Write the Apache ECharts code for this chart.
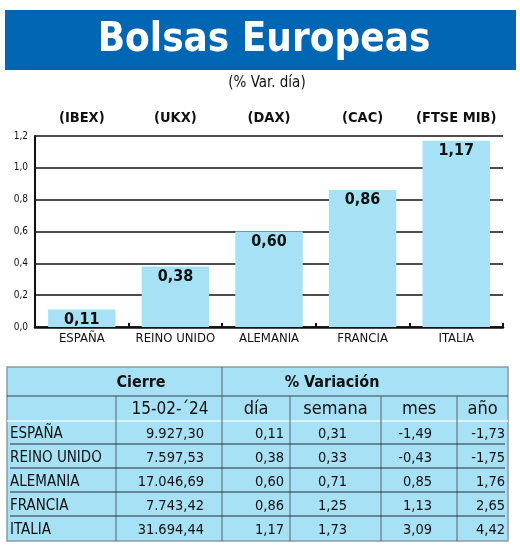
<!DOCTYPE html>
<html>
<head>
<meta charset="utf-8">
<script src="https://cdn.jsdelivr.net/npm/echarts@6/dist/echarts.min.js"></script>
<style>
  html, body { margin: 0; padding: 0; background: #fff; }
  #chart { width: 520px; height: 546px; }
</style>
</head>
<body>
<div id="chart"></div>
<script>
// datos
const categories = ['ESPAÑA', 'REINO UNIDO', 'ALEMANIA', 'FRANCIA', 'ITALIA'];
const indices = ['(IBEX)', '(UKX)', '(DAX)', '(CAC)', '(FTSE MIB)'];
const dayVar = [0.11, 0.38, 0.60, 0.86, 1.17];
const closes = [9927.30, 7597.53, 17046.69, 7743.42, 31694.44];
const weekVar = [0.31, 0.33, 0.71, 1.25, 1.73];
const monthVar = [-1.49, -0.43, 0.85, 1.13, 3.09];
const yearVar = [-1.73, -1.75, 1.76, 2.65, 4.42];
const closeDate = '15-02-´24';
const varHeaders = ['día', 'semana', 'mes', 'año'];

const FONT = '"DejaVu Sans Condensed", sans-serif';
const BLUE = '#0066b3';
const LIGHT = '#a6e1f6';

function fmt(v) {
    return v.toFixed(2).replace('.', ',');
}
function fmtClose(v) {
    let parts = v.toFixed(2).split('.');
    let ent = parts[0].replace(/\B(?=(\d{3})+(?!\d))/g, '.');
    return ent + ',' + parts[1];
}

// tabla
function buildTable() {
    let els = [];
    let left = 7, right = 508, top = 367;
    let h1 = 29, h2 = 25, rh = 24;
    let bottom = top + h1 + h2 + rh * categories.length;
    let cols = [7, 116, 222, 290, 381, 457, 508];
    let rightX = [204, 284, 347, 432, 505];

    els.push({type: 'rect', shape: {x: left, y: top, width: right - left, height: bottom - top},
        style: {fill: LIGHT, stroke: '#8a9ba3', lineWidth: 1.5}});
    // lineas de cabecera
    els.push({type: 'line', shape: {x1: left, y1: top + h1, x2: right, y2: top + h1},
        style: {stroke: '#3a4348', lineWidth: 1}});
    els.push({type: 'line', shape: {x1: left, y1: top + h1 + h2, x2: right, y2: top + h1 + h2},
        style: {stroke: '#e8f6fb', lineWidth: 1.5}});
    // verticales
    els.push({type: 'line', shape: {x1: cols[2], y1: top, x2: cols[2], y2: bottom},
        style: {stroke: '#55646b', lineWidth: 1}});
    [1, 3, 4, 5].forEach(function (i) {
        els.push({type: 'line', shape: {x1: cols[i], y1: top + h1, x2: cols[i], y2: bottom},
            style: {stroke: '#55646b', lineWidth: 1}});
    });
    els.push({type: 'text', style: {text: 'Cierre', x: 141, y: top + h1 / 2 + 1, align: 'center', verticalAlign: 'middle',
        font: 'bold 16px ' + FONT, fill: '#111'}});
    els.push({type: 'text', style: {text: '% Variación', x: 332, y: top + h1 / 2 + 1, align: 'center', verticalAlign: 'middle',
        font: 'bold 16px ' + FONT, fill: '#111'}});
    els.push({type: 'text', style: {text: closeDate, x: 170, y: top + h1 + h2 / 2 + 1, align: 'center', verticalAlign: 'middle',
        font: '17px ' + FONT, fill: '#111'}});
    varHeaders.forEach(function (t, i) {
        els.push({type: 'text', style: {text: t, x: (cols[i + 2] + cols[i + 3]) / 2, y: top + h1 + h2 / 2 + 1,
            align: 'center', verticalAlign: 'middle', font: '18px ' + FONT, fill: '#111'}});
    });
    categories.forEach(function (c, r) {
        let y0 = top + h1 + h2 + r * rh;
        let ym = y0 + rh / 2 + 1;
        let vals = [fmtClose(closes[r]), fmt(dayVar[r]), fmt(weekVar[r]), fmt(monthVar[r]), fmt(yearVar[r])];
        els.push({type: 'text', style: {text: c, x: 10, y: ym, align: 'left', verticalAlign: 'middle',
            font: '15px ' + FONT, fill: '#111'}});
        vals.forEach(function (v, i) {
            els.push({type: 'text', style: {text: v, x: rightX[i], y: ym, align: 'right', verticalAlign: 'middle',
                font: '14.5px ' + FONT, fill: '#111'}});
        });
        if (r < categories.length - 1) {
            els.push({type: 'line', shape: {x1: 10, y1: y0 + rh - 1, x2: 505, y2: y0 + rh - 1},
                style: {stroke: '#2a2f33', lineWidth: 1}});
        }
    });
    return els;
}

let myChart = echarts.init(document.getElementById('chart'));
let option = {
    animation: false,
    backgroundColor: '#fff',
    graphic: [
        {type: 'rect', shape: {x: 5, y: 10, width: 511, height: 60}, style: {fill: BLUE}},
        {type: 'text', style: {text: 'Bolsas Europeas', x: 264, y: 41, align: 'center', verticalAlign: 'middle',
            font: 'bold 40px "DejaVu Sans Condensed", sans-serif', fill: '#fff'}},
        {type: 'text', style: {text: '(% Var. día)', x: 267, y: 83, align: 'center', verticalAlign: 'middle',
            font: '15px ' + FONT, fill: '#111'}}
    ].concat(buildTable()),
    grid: {left: 35, right: 17, top: 136, bottom: 219, containLabel: false},
    xAxis: [
        {
            type: 'category',
            data: categories,
            axisLine: {lineStyle: {color: '#111', width: 2.5}},
            axisTick: {show: true, inside: true, length: 4, interval: 0, lineStyle: {color: '#111', width: 2}},
            axisLabel: {color: '#111', fontFamily: FONT, fontSize: 13, margin: 5, interval: 0}
        },
        {
            type: 'category',
            position: 'top',
            data: indices,
            axisLine: {show: false},
            axisTick: {show: false},
            axisLabel: {color: '#111', fontFamily: FONT, fontSize: 14.5, fontWeight: 'bold', margin: 10, interval: 0}
        }
    ],
    yAxis: {
        type: 'value',
        min: 0,
        max: 1.2,
        interval: 0.2,
        axisLine: {show: true, lineStyle: {color: '#111', width: 2}},
        axisTick: {show: false},
        splitLine: {lineStyle: {color: '#111', width: 1.5}},
        axisLabel: {
            color: '#111', fontFamily: FONT, fontSize: 10, margin: 7,
            formatter: function (v) { return v.toFixed(1).replace('.', ','); }
        }
    },
    series: [{
        type: 'bar',
        data: dayVar,
        barWidth: '72%',
        itemStyle: {color: LIGHT},
        label: {
            show: true,
            position: 'insideTop',
            distance: 2,
            color: '#111',
            fontFamily: FONT,
            fontSize: 16,
            fontWeight: 'bold',
            formatter: function (p) { return fmt(p.value); }
        }
    }]
};
myChart.setOption(option);
</script>
</body>
</html>
